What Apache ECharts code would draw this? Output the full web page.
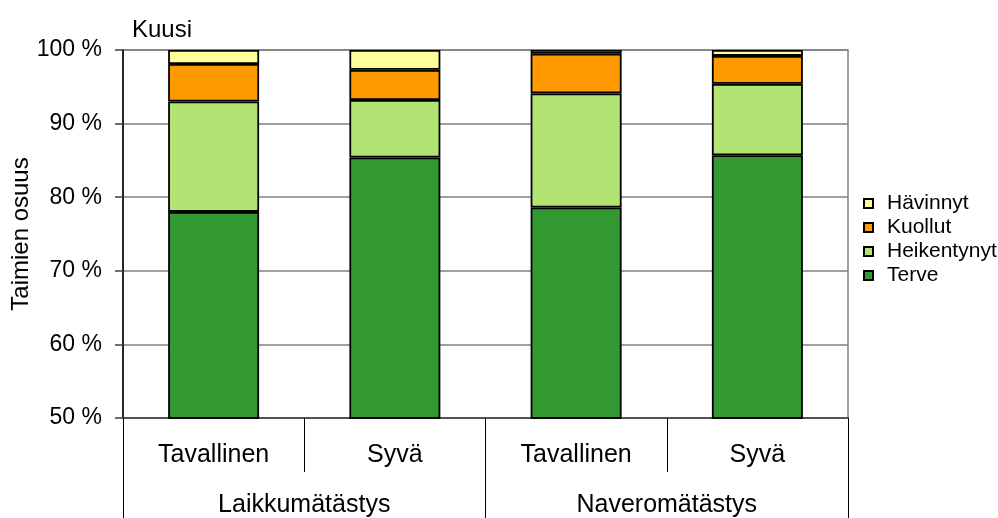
<!DOCTYPE html>
<html>
<head>
<meta charset="utf-8">
<script src="https://cdn.jsdelivr.net/npm/echarts@6/dist/echarts.min.js"></script>
<style>
  html, body { margin: 0; padding: 0; background: #ffffff; }
  #chart { width: 998px; height: 518px; }
</style>
</head>
<body>
<div id="chart"></div>
<script>
// Seedling condition shares (%) by soil preparation method and planting depth
const methods = ['Tavallinen', 'Syvä', 'Tavallinen', 'Syvä'];
const groups = ['Laikkumätästys', 'Naveromätästys'];
const terve = [78.0, 85.4, 78.6, 85.7];
const heikentynyt = [15.0, 7.8, 15.5, 9.7];
const kuollut = [5.1, 4.1, 5.4, 3.8];
const havinnyt = [1.9, 2.7, 0.5, 0.8];
const yTicks = [50, 60, 70, 80, 90, 100];

const FONT = 'Liberation Sans, Arial, sans-serif';
const chart = echarts.init(document.getElementById('chart'), null, { renderer: 'canvas' });

function barSeries(name, data, color) {
  return {
    name: name,
    type: 'bar',
    stack: 'total',
    xAxisIndex: 0,
    barWidth: 91,
    data: data,
    itemStyle: { color: color, borderColor: '#000000', borderWidth: 1.8 },
    emphasis: { disabled: true }
  };
}

chart.setOption({
  animation: false,
  backgroundColor: '#ffffff',
  textStyle: { fontFamily: FONT, color: '#000000' },
  title: {
    text: 'Kuusi',
    left: 127,
    top: 13,
    textStyle: { fontFamily: FONT, fontSize: 24, fontWeight: 'normal', color: '#000000' }
  },
  grid: {
    left: 123, right: 150, top: 50, bottom: 100,
    outerBoundsMode: 'none',
    containLabel: false,
    show: true, borderColor: '#808080', borderWidth: 1.5, backgroundColor: 'transparent'
  },
  legend: {
    orient: 'vertical',
    left: 858,
    top: 188,
    itemWidth: 9,
    itemHeight: 9,
    itemGap: 3,
    icon: 'rect',
    data: ['Hävinnyt', 'Kuollut', 'Heikentynyt', 'Terve'],
    textStyle: { fontFamily: FONT, fontSize: 21, color: '#000000', padding: [0, 0, 0, 9] }
  },
  xAxis: [
    {
      type: 'category',
      position: 'bottom',
      data: methods,
      axisLine: { show: true, lineStyle: { color: '#404040', width: 1.5 } },
      axisTick: { show: true, length: 54, alignWithLabel: false, lineStyle: { color: '#000000', width: 1 } },
      axisLabel: { margin: 25, fontFamily: FONT, fontSize: 25, color: '#000000' },
      splitLine: { show: false }
    },
    {
      type: 'category',
      position: 'bottom',
      data: groups,
      axisLine: { show: false },
      axisTick: { show: true, length: 100, alignWithLabel: false, lineStyle: { color: '#000000', width: 1 } },
      axisLabel: { margin: 75, fontFamily: FONT, fontSize: 25, color: '#000000' },
      splitLine: { show: false }
    }
  ],
  yAxis: {
    type: 'value',
    min: yTicks[0],
    max: yTicks[yTicks.length - 1],
    interval: 10,
    name: 'Taimien osuus',
    nameLocation: 'middle',
    nameGap: 90,
    nameMoveOverlap: false,
    nameTextStyle: { fontFamily: FONT, fontSize: 24, color: '#000000' },
    axisLine: { show: true, lineStyle: { color: '#000000', width: 1.5 } },
    axisTick: { show: true, length: 8, lineStyle: { color: '#404040', width: 1.5 } },
    axisLabel: { margin: 21, fontFamily: FONT, fontSize: 23, color: '#000000', formatter: '{value} %' },
    splitLine: { show: true, lineStyle: { color: '#808080', width: 1.5 } }
  },
  series: [
    barSeries('Terve', terve, '#339933'),
    barSeries('Heikentynyt', heikentynyt, '#B3E372'),
    barSeries('Kuollut', kuollut, '#FF9900'),
    barSeries('Hävinnyt', havinnyt, '#FFFF99')
  ]
});
</script>
</body>
</html>
